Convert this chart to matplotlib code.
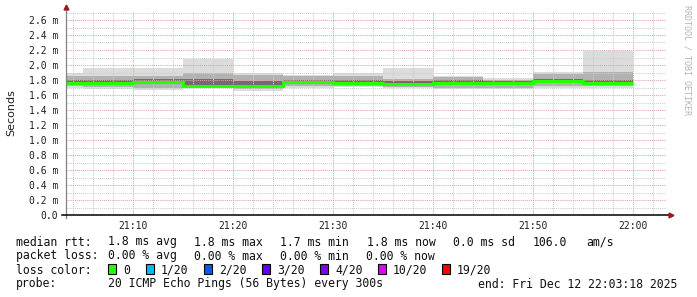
import numpy as np
import matplotlib.pyplot as plt
from matplotlib.patches import Rectangle
from matplotlib.ticker import MultipleLocator, FuncFormatter

# 5-minute steps, minutes after 21:00
step_start = [0, 5, 10, 15, 20, 25, 30, 35, 40, 45, 50, 55]
# round trip times per step (ms): smoke bands around the median
rtt_max = [1.90, 1.96, 1.96, 2.08, 1.89, 1.87, 1.90, 1.96, 1.85, 1.83, 1.91, 2.19]
rtt_q90 = [1.85, 1.85, 1.85, 1.89, 1.87, 1.85, 1.85, 1.82, 1.84, 1.80, 1.88, 1.91]
rtt_q75 = [1.80, 1.80, 1.81, 1.81, 1.79, 1.80, 1.80, 1.79, 1.80, 1.79, 1.82, 1.80]
rtt_med = [1.762, 1.762, 1.773, 1.724, 1.724, 1.772, 1.762, 1.742, 1.758, 1.758, 1.783, 1.756]
rtt_q25 = [1.74, 1.74, 1.745, 1.71, 1.70, 1.745, 1.74, 1.72, 1.73, 1.735, 1.76, 1.73]
rtt_q10 = [1.72, 1.71, 1.70, 1.70, 1.68, 1.72, 1.725, 1.71, 1.70, 1.70, 1.72, 1.715]
rtt_min = [1.70, 1.68, 1.667, 1.689, 1.658, 1.698, 1.711, 1.70, 1.68, 1.68, 1.70, 1.70]

loss_labels = ['0', '1/20', '2/20', '3/20', '4/20', '10/20', '19/20']
loss_colors = ['#26ff00', '#00b8ff', '#0059ff', '#5e00ff', '#7e00ff', '#dd00ff', '#ff0000']

W, H = 697, 297
MONO = 'DejaVu Sans Mono'

fig = plt.figure(figsize=(W / 100, H / 100), dpi=100)
ax = fig.add_axes([66 / W, (H - 215) / H, 600 / W, 203.25 / H])

edges = np.array(step_start + [60])
ax.stairs(rtt_max, edges, baseline=np.array(rtt_min), fill=True, color='#dcdcdc', lw=0, zorder=1)
ax.stairs(rtt_q90, edges, baseline=np.array(rtt_q10), fill=True, color='#b2b2b2', lw=0, zorder=1.1)
ax.stairs(rtt_q75, edges, baseline=np.array(rtt_q25), fill=True, color='#6e6e6e', lw=0, zorder=1.2)
ax.stairs(rtt_med, edges, baseline=None, color='#26ff00', lw=2.2, zorder=4)

ax.set_xlim(3.3, 63.3)
ax.set_ylim(0, 2.71)

ax.xaxis.set_major_locator(MultipleLocator(10))
ax.xaxis.set_minor_locator(MultipleLocator(2))
ax.yaxis.set_major_locator(MultipleLocator(0.2))
ax.yaxis.set_minor_locator(MultipleLocator(0.1))
ax.xaxis.set_major_formatter(FuncFormatter(lambda m, p: f'{21 + int(round(m)) // 60}:{int(round(m)) % 60:02d}'))
ax.yaxis.set_major_formatter(FuncFormatter(lambda v, p: '0.0' if abs(v) < 1e-9 else f'{v:.1f} m'))

ax.set_axisbelow(False)
ax.grid(which='minor', color='#cdcdcd', ls=(0, (1, 1)), lw=0.75)
ax.grid(which='major', color='#e2a4a4', ls=(0, (1, 1)), lw=0.75)
ax.tick_params(which='both', length=0)
ax.tick_params(axis='y', pad=5.5, labelsize=7, labelcolor='#202020')
ax.tick_params(axis='x', pad=4.5, labelsize=7, labelcolor='#202020')
for lab in ax.get_xticklabels() + ax.get_yticklabels():
    lab.set_family(MONO)
for s in ax.spines.values():
    s.set_visible(False)

# axes with arrows
ax.plot([0, 0], [-0.015, 1.018], transform=ax.transAxes, color='#808080', lw=0.9, clip_on=False, zorder=5)
ax.plot([-0.007, 1.008], [0, 0], transform=ax.transAxes, color='#000000', lw=1.1, clip_on=False, zorder=5)
ax.plot([0], [1.022], marker='^', ms=3.5, color='#a01818', transform=ax.transAxes, clip_on=False, zorder=6)
ax.plot([1.009], [0], marker='>', ms=3.5, color='#a01818', transform=ax.transAxes, clip_on=False, zorder=6)

fig.text(11 / W, 1 - 113 / H, 'Seconds', rotation=90, ha='center', va='center', fontsize=8, color='#202020')
fig.text(687 / W, 1 - 5 / H, 'RRDTOOL / TOBI OETIKER', rotation=270, ha='center', va='top',
         fontsize=6, family=MONO, color='#b4b4b4')


def txt(x, y, s):
    fig.text(x / W, 1 - y / H, s, ha='left', va='baseline', fontsize=8.3, family=MONO, color='#101010')


# legend block
txt(16, 245.5, 'median rtt:')
for x, s in zip([108, 194, 280, 367, 453, 533, 586],
                ['1.8 ms avg', '1.8 ms max', '1.7 ms min', '1.8 ms now', '0.0 ms sd', '106.0', 'am/s']):
    txt(x, 245.5, s)
txt(16, 259.5, 'packet loss:')
for x, s in zip([108, 194, 280, 366], ['0.00 % avg', '0.00 % max', '0.00 % min', '0.00 % now']):
    txt(x, 259.5, s)
txt(16, 273.5, 'loss color:')
box_x = [108, 146, 204, 262, 320, 378, 442]
for bx, lab, c in zip(box_x, loss_labels, loss_colors):
    fig.add_artist(Rectangle((bx / W, 1 - 274 / H), 8 / W, 10 / H, transform=fig.transFigure,
                             facecolor=c, edgecolor='black', lw=0.8))
    txt(bx + 15, 273.5, lab)
txt(16, 287.5, 'probe:')
txt(108, 287.5, '20 ICMP Echo Pings (56 Bytes) every 300s')
txt(478, 287.5, 'end: Fri Dec 12 22:03:18 2025')

fig.savefig('out.png', dpi=100)
